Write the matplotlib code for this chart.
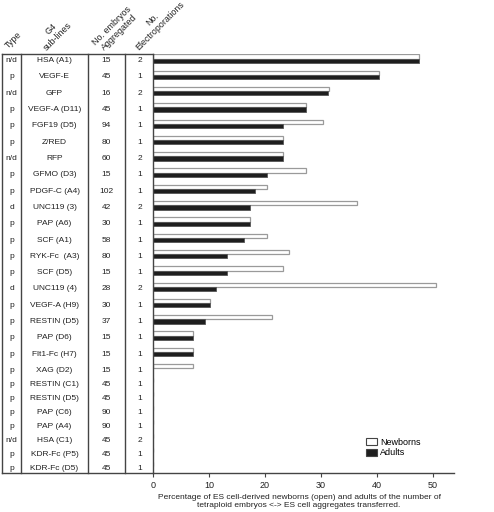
import matplotlib
matplotlib.use("Agg")
import matplotlib.pyplot as plt
from matplotlib.lines import Line2D
from matplotlib.patches import Patch
from matplotlib.transforms import blended_transform_factory
import numpy as np

plt.rcParams['font.family'] = ['Liberation Sans', 'DejaVu Sans']

types = ['n/d', 'p', 'n/d', 'p', 'p', 'p', 'n/d', 'p', 'p', 'd', 'p', 'p', 'p', 'p',
         'd', 'p', 'p', 'p', 'p', 'p', 'p', 'p', 'p', 'p', 'n/d', 'p', 'p']
sublines = ['HSA (A1)', 'VEGF-E', 'GFP', 'VEGF-A (D11)', 'FGF19 (D5)', 'Z/RED', 'RFP',
            'GFMO (D3)', 'PDGF-C (A4)', 'UNC119 (3)', 'PAP (A6)', 'SCF (A1)', 'RYK-Fc  (A3)',
            'SCF (D5)', 'UNC119 (4)', 'VEGF-A (H9)', 'RESTIN (D5)', 'PAP (D6)', 'Flt1-Fc (H7)',
            'XAG (D2)', 'RESTIN (C1)', 'RESTIN (D5)', 'PAP (C6)', 'PAP (A4)', 'HSA (C1)',
            'KDR-Fc (P5)', 'KDR-Fc (D5)']
embryos = [15, 45, 16, 45, 94, 80, 60, 15, 102, 42, 30, 58, 80, 15, 28, 30, 37, 15, 15, 15,
           45, 45, 90, 90, 45, 45, 45]
electroporations = [2, 1, 2, 1, 1, 1, 2, 1, 1, 2, 1, 1, 1, 1, 2, 1, 1, 1, 1, 1,
                    1, 1, 1, 1, 2, 1, 1]
newborns = [47.5, 40.4, 31.4, 27.3, 30.4, 23.3, 23.3, 27.3, 20.4, 36.4, 17.3, 20.4, 24.3,
            23.3, 50.5, 10.2, 21.3, 7.2, 7.2, 7.2, 0, 0, 0, 0, 0, 0, 0]
adults = [47.5, 40.4, 31.3, 27.3, 23.3, 23.3, 23.3, 20.4, 18.3, 17.3, 17.3, 16.3, 13.3,
          13.3, 11.3, 10.2, 9.3, 7.2, 7.2, 0, 0, 0, 0, 0, 0, 0, 0]
xticks = [0, 10, 20, 30, 40, 50]
headers = [['Type'], ['G4', 'sub-lines'], ['No. embryos', 'Aggregated'],
           ['No.', 'Electroporations']]
legend_labels = ['Newborns', 'Adults']
xlabel = ('Percentage of ES cell-derived newborns (open) and adults of the number of\n'
          'tetraploid embryos <-> ES cell aggregates transferred.')

W, H = 494, 512
fig = plt.figure(figsize=(W / 100, H / 100), dpi=100)

def fx(px):
    return px / W

def fy(py):
    return 1 - py / H

ax_left, ax_right, ax_top, ax_bot = 153, 454, 54, 473
ax = fig.add_axes([fx(ax_left), fy(ax_bot), fx(ax_right - ax_left), (ax_bot - ax_top) / H])

n = len(sublines)
idx = np.arange(n, dtype=float)
ypos = np.where(idx <= 19, idx, 19 + (idx - 19) * 0.86)

bh = 0.26
ax.barh(ypos - bh, newborns, height=bh, color='white', edgecolor='#9a9a9a', linewidth=0.9)
ax.barh(ypos, adults, height=bh, color='#1e1e1e', edgecolor='#555555', linewidth=0.6)

ax.set_xlim(0, 53.75)
ax.set_ylim(25.29, -0.41)
ax.set_yticks([])
ax.set_xticks(xticks)
ax.tick_params(axis='x', direction='out', length=3, width=0.8, color='#444444',
               labelsize=6.5, labelcolor='#222222', pad=3)
for s in ['top', 'right']:
    ax.spines[s].set_visible(False)
for s in ['left', 'bottom']:
    ax.spines[s].set_color('#444444')
    ax.spines[s].set_linewidth(1.0)

# table
tr = blended_transform_factory(fig.transFigure, ax.transData)
col_centers = [11.5, 54.5, 106.5, 139.5]
for i in range(n):
    vals = [types[i], sublines[i], str(embryos[i]), str(electroporations[i])]
    for c, v in zip(col_centers, vals):
        fig.text(fx(c), ypos[i], v, transform=tr, ha='center', va='center',
                 fontsize=6, color='#222222')

line_kw = dict(color='#444444', linewidth=1.0, transform=fig.transFigure)
for vx in [2, 21, 88, 125]:
    fig.add_artist(Line2D([fx(vx), fx(vx)], [fy(ax_top), fy(ax_bot)], **line_kw))
fig.add_artist(Line2D([fx(2), fx(ax_left)], [fy(ax_top), fy(ax_top)], **line_kw))
fig.add_artist(Line2D([fx(2), fx(ax_left)], [fy(ax_bot), fy(ax_bot)], **line_kw))

# headers (rotated 45 degrees, each line drawn separately, upper line centred)
renderer = fig.canvas.get_renderer()
hfs = 6.4
lh = 10.0
c45 = np.sqrt(0.5)
anchors = [(10, 50), (48, 52), (106, 52), (140, 52)]
for (hx, hy), lines in zip(anchors, headers):
    bottom = lines[-1]
    fig.text(fx(hx), fy(hy), bottom, rotation=45, rotation_mode='anchor', ha='left',
             va='bottom', fontsize=hfs, color='#222222')
    if len(lines) > 1:
        tmp = fig.text(0, 0, bottom, fontsize=hfs)
        L = tmp.get_window_extent(renderer).width
        tmp.remove()
        dx = (L / 2) * c45 - lh * c45
        dy = (L / 2) * c45 + lh * c45
        fig.text(fx(hx) + dx / W, fy(hy) + dy / H, lines[0], rotation=45,
                 rotation_mode='anchor', ha='center', va='bottom', fontsize=hfs,
                 color='#222222')

# legend
handles = [Patch(facecolor='white', edgecolor='#444444', linewidth=0.8),
           Patch(facecolor='#1e1e1e', edgecolor='#444444', linewidth=0.8)]
fig.legend(handles, legend_labels, loc='upper left', bbox_to_anchor=(fx(366), fy(438)),
           frameon=False, fontsize=6.5, handlelength=1.2, handleheight=0.8,
           handletextpad=0.4, labelspacing=0.15, borderpad=0, borderaxespad=0)

fig.text(fx(299), fy(494), xlabel, ha='center', va='top', fontsize=6,
         color='#222222', linespacing=1.25)

fig.savefig('out.png', dpi=100)
